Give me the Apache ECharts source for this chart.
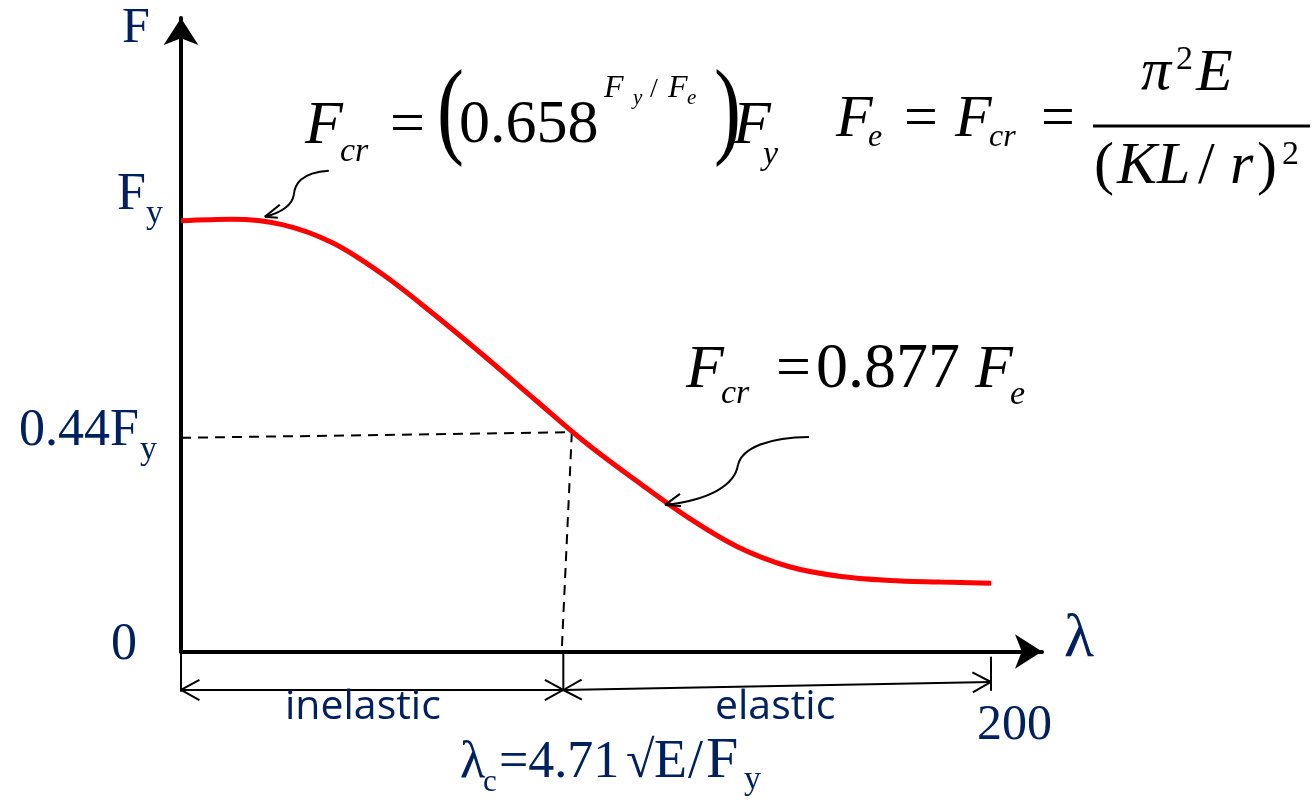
<!DOCTYPE html>
<html><head><meta charset="utf-8">
<script src="https://cdn.jsdelivr.net/npm/echarts@6/dist/echarts.min.js"></script>
<style>html,body{margin:0;padding:0;background:#fff}#c{width:1316px;height:800px}</style>
</head><body><div id="c"></div>
<script>
// ---- data (λ = slenderness, F as fraction of Fy, schematic) ----
const lambda = [0, 12.5, 25, 37.5, 50, 62.5, 75, 87.5, 100, 112.5, 125, 137.5, 150, 162.5, 175, 187.5, 200];
const fcr    = [0.996, 0.9995, 0.987, 0.9445, 0.8705, 0.7792, 0.6821, 0.5815, 0.4821, 0.3942, 0.3110, 0.2416, 0.1965, 0.1739, 0.1642, 0.1607, 0.1577];
const critH = [[0, 0.494], [96.5, 0.507]];          // dashed horizontal to 0.44Fy
const critV = [[96.5, 0.507], [94.0, 0]];           // dashed vertical to λc
const rangeArrows = [                               // x1,y1,x2,y2,headStart,headEnd
  [0, -0.089, 94.4, -0.089, 1, 1],
  [94.4, -0.089, 200, -0.0705, 1, 1],
  [0, 0, 0, -0.093, 0, 0],
  [94.4, 0, 94.4, -0.089, 0, 0],
  [200, -0.012, 200, -0.091, 0, 0]
];
const pointerTips = [[20.7, 1.005], [119.5, 0.339]];
const yTickLabels = [
  {v: 1.04, main: 'F', sub: 'y', xMain: 117, xSub: 146},
  {v: 0.494, main: '0.44F', sub: 'y', xMain: 19, xSub: 140},
  {v: 0, main: '0', sub: '', xMain: 111}
];
const xTickLabels = [{v: 200, text: '200'}];

const NAVY = '#002060';
const SERIF = '"Liberation Serif"';
const SANS = '"Open Sans"';

// pointer shapes (pixel offsets relative to tip)
const pointerShapes = [
  {segs: [[64,-46, 35,-44, 30,-32, 29,-22], [29,-22, 27,-10, 15,-4, 0,0]], arms: [[15,-12],[13,1]]},
  {segs: [[144,-68, 105,-68, 77,-57, 73,-40], [73,-40, 70,-20, 45,-5, 0,0]], arms: [[15,-11],[16,1]]}
];

const chart = echarts.init(document.getElementById('c'), null, {renderer: 'canvas'});
const GRID = {left: 181, top: 18, width: 861, height: 633.5};
const XMAX = 212.59, YMAX = 1.4647;

function renderArrow(params, api) {
  const p1 = api.coord([api.value(0), api.value(1)]);
  const p2 = api.coord([api.value(2), api.value(3)]);
  const st = {stroke: '#000', lineWidth: 2};
  const children = [{type: 'line', shape: {x1: p1[0], y1: p1[1], x2: p2[0], y2: p2[1]}, style: st}];
  const heads = [[api.value(4), p1, p2], [api.value(5), p2, p1]];
  heads.forEach(([h, tip, from]) => {
    if (!h) return;
    const ang = Math.atan2(from[1] - tip[1], from[0] - tip[0]);
    [-1, 1].forEach(s => {
      const a = ang + s * 0.5;
      children.push({type: 'line', shape: {x1: tip[0], y1: tip[1], x2: tip[0] + 21 * Math.cos(a), y2: tip[1] + 21 * Math.sin(a)}, style: st});
    });
  });
  return {type: 'group', children};
}
function renderPointer(params, api) {
  const t = api.coord([api.value(0), api.value(1)]);
  const sh = pointerShapes[params.dataIndex];
  const st = {stroke: '#000', lineWidth: 2, fill: 'none'};
  const children = sh.segs.map(s => ({type: 'bezierCurve', shape: {
    x1: t[0] + s[0], y1: t[1] + s[1], cpx1: t[0] + s[2], cpy1: t[1] + s[3],
    cpx2: t[0] + s[4], cpy2: t[1] + s[5], x2: t[0] + s[6], y2: t[1] + s[7]}, style: st}));
  sh.arms.forEach(a => children.push({type: 'line', shape: {x1: t[0], y1: t[1], x2: t[0] + a[0], y2: t[1] + a[1]}, style: st}));
  return {type: 'group', children};
}

chart.setOption({
  animation: false,
  backgroundColor: '#fff',
  grid: GRID,
  xAxis: {type: 'value', min: 0, max: XMAX,
    axisLine: {show: true, symbol: ['none', 'arrow'], symbolSize: [26, 27], lineStyle: {color: '#000', width: 4}},
    axisTick: {show: false}, axisLabel: {show: false}, splitLine: {show: false}},
  yAxis: {type: 'value', min: 0, max: YMAX,
    axisLine: {show: true, symbol: ['none', 'arrow'], symbolSize: [26, 27], lineStyle: {color: '#000', width: 4}},
    axisTick: {show: false}, axisLabel: {show: false}, splitLine: {show: false}},
  series: [
    {type: 'line', data: critH, showSymbol: false, lineStyle: {color: '#000', width: 2, type: [10, 7]}, z: 2},
    {type: 'line', data: critV, showSymbol: false, lineStyle: {color: '#000', width: 2, type: [10, 7]}, z: 2},
    {type: 'line', data: lambda.map((x, i) => [x, fcr[i]]), smooth: 0.35, showSymbol: false,
      lineStyle: {color: '#ff0000', width: 5}, z: 3},
    {type: 'custom', renderItem: renderArrow, data: rangeArrows, clip: false, encode: {x: [0, 2], y: [1, 3]}, z: 4},
    {type: 'custom', renderItem: renderPointer, data: pointerTips, clip: false, encode: {x: 0, y: 1}, z: 5}
  ]
});

// ---- text annotations ----
function textEl(t, x, base, size, italic, color, fam, sx) {
  fam = fam || SERIF;
  const k = fam === SANS ? 0.388 : 0.3375;
  return {type: 'text', silent: true, x: x, y: base - k * size, z: 100, scaleX: sx || 1,
    style: {text: t, x: 0, y: 0, font: (italic ? 'italic ' : '') + size + 'px ' + fam, fill: color,
      align: 'left', verticalAlign: 'middle', textAlign: 'left', textVerticalAlign: 'middle'}};
}
const G = [];
function pieces(list, color, fam) { list.forEach(p => G.push(textEl(p[0], p[1], p[2], p[3], p[4], color, fam, p[5]))); }

// formulas (black)
pieces([['F',305,148,62,1],['cr',340,164,34,1],['=',390,148,62,0],['(',437,152,108,0,0.75],['0.658',459,147,62,0],
  ['F',604,99,32,1],['y',633,106,21,1],['/',650,99,28,0],['F',668,99,32,1],['e',687,106,21,1],
  [')',714,152,108,0,0.75],['F',733,148,62,1],['y',763,167,34,1]], '#000');
pieces([['F',836,140,60,1],['e',868,148,32,1],['=',904,140,60,0],['F',955,140,60,1],['cr',989,148,32,1],['=',1041,140,60,0],
  ['π',1141,93,60,1],['2',1176,72,34,0],['E',1196,94,60,1],
  ['(',1094,187,60,0],['KL',1117,187,60,1],['/',1198,187,60,0],['r',1230,187,60,1],[')',1257,187,60,0],['2',1282,167,34,0]], '#000');
G.push({type: 'line', silent: true, z: 100, shape: {x1: 1093, y1: 126, x2: 1310, y2: 126}, style: {stroke: '#000', lineWidth: 3}});
pieces([['F',686,392,62,1],['cr',721,406,34,1],['=',776,392,62,0],['0.877',816,392,64,0],['F',975,392,62,1],['e',1010,407,34,1]], '#000');

// axis names
pieces([['F',122,46,50,0],['λ',1064,661,62,0]], NAVY);
// λc formula
pieces([['λ',460,781,52,0],['c',483,793,31,0],['=4.71',499,781,52,0],['√',626,781,52,0],['E',654,781,54,0],['/',688,781,54,0],['F',706,781,58,0],['y',744,792,34,0]], NAVY);
// region labels
pieces([['inelastic',285,723,41,0],['elastic',715,723,41,0]], NAVY, SANS);

// tick labels from data positions
yTickLabels.forEach(l => {
  const py = chart.convertToPixel({gridIndex: 0}, [0, l.v])[1];
  const base = py + 11;
  G.push(textEl(l.main, l.xMain, base, 52, 0, NAVY));
  if (l.sub) G.push(textEl(l.sub, l.xSub, base + 13, 34, 0, NAVY));
});
xTickLabels.forEach(l => {
  const px = chart.convertToPixel({gridIndex: 0}, [l.v, 0])[0];
  G.push(textEl(l.text, px - 14, 743, 50, 0, NAVY));
});

chart.setOption({graphic: G});
</script></body></html>
